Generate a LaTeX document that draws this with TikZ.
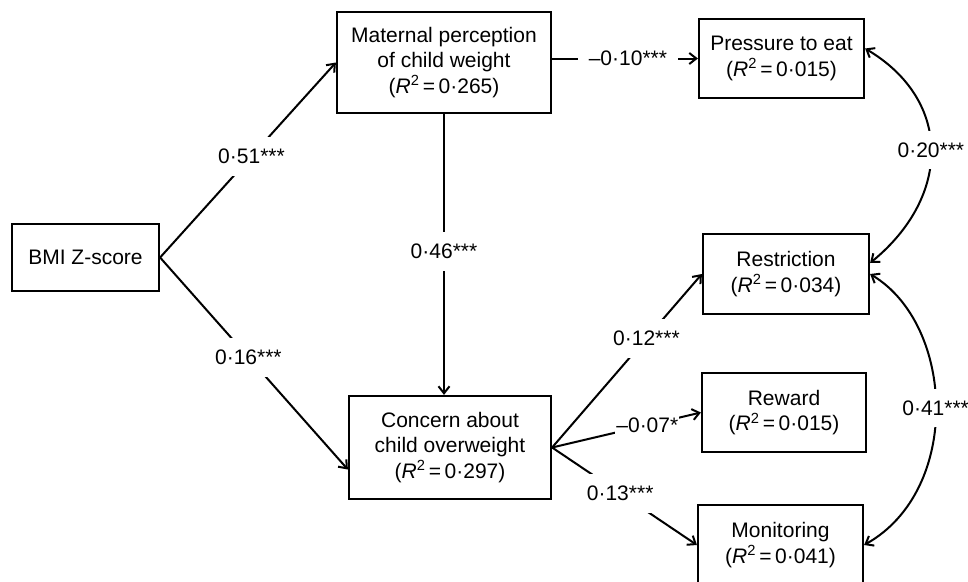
\documentclass[tikz,border=0pt]{standalone}
\usepackage{fontspec}
\setmainfont{Liberation Sans}
\usetikzlibrary{arrows.meta}
\newcommand{\rsqv}[1]{(\textit{R}\textsuperscript{2}\,=\,#1)}
\begin{document}
\begin{tikzpicture}[x=1pt,y=-1pt,
  font=\fontsize{21}{25.5}\selectfont,
  box/.style={draw, line width=2.2pt, align=center, inner sep=0pt},
  conn/.style={line width=2pt, -{Straight Barb[length=7pt,width=11pt]}},
  both/.style={line width=2pt, {Straight Barb[length=7pt,width=11pt]}-{Straight Barb[length=7pt,width=11pt]}},
  lbl/.style={fill=white, inner xsep=8pt, inner ysep=12pt}]
\useasboundingbox (0,0) rectangle (968,581);
% boxes
\node[box, minimum width=147pt, minimum height=67pt] (bmi) at (85.5,257.5) {BMI Z-score};
\node[box, minimum width=214pt, minimum height=101pt] (mat) at (444,62.5) {Maternal perception\\of child weight\\\rsqv{0·265}};
\node[box, minimum width=202pt, minimum height=103pt] (con) at (450,447.5) {Concern about\\child overweight\\\rsqv{0·297}};
\node[box, minimum width=165pt, minimum height=79pt] (pre) at (781.5,58.5) {Pressure to eat\\\rsqv{0·015}};
\node[box, minimum width=166pt, minimum height=80pt] (res) at (786,274) {Restriction\\\rsqv{0·034}};
\node[box, minimum width=164pt, minimum height=79pt] (rew) at (784,412.5) {Reward\\\rsqv{0·015}};
\node[box, minimum width=165pt, minimum height=80pt] (mon) at (780.5,545) {Monitoring\\\rsqv{0·041}};
% connectors
\draw[conn] (bmi.east) -- node[lbl,pos=0.52]{0·51***} (mat.west);
\draw[conn] (bmi.east) -- node[lbl,pos=0.47]{0·16***} ([yshift=-22pt]con.west);
\draw[conn] (mat.south) -- node[lbl,pos=0.49]{0·46***} (mat.south |- con.north);
\draw[conn] (mat.east |- pre.west) -- node[lbl,pos=0.52,inner xsep=11pt]{–0·10***} (pre.west);
\draw[conn] (con.east) -- node[lbl,pos=0.63]{0·12***} (res.west);
\draw[conn] (con.east) -- node[lbl,pos=0.64,inner xsep=1pt,inner ysep=2pt]{–0·07*} (rew.west);
\draw[conn] (con.east) -- node[lbl,pos=0.47]{0·13***} (mon.west);
\draw[both] ([yshift=10pt]pre.east) .. controls (952,100) and (952,196) .. node[lbl,pos=0.5]{0·20***} ([yshift=11pt]res.east);
\draw[both] (res.east) .. controls (955,325) and (962,490) .. node[lbl,pos=0.5]{0·41***} (mon.east);
\end{tikzpicture}
\end{document}
